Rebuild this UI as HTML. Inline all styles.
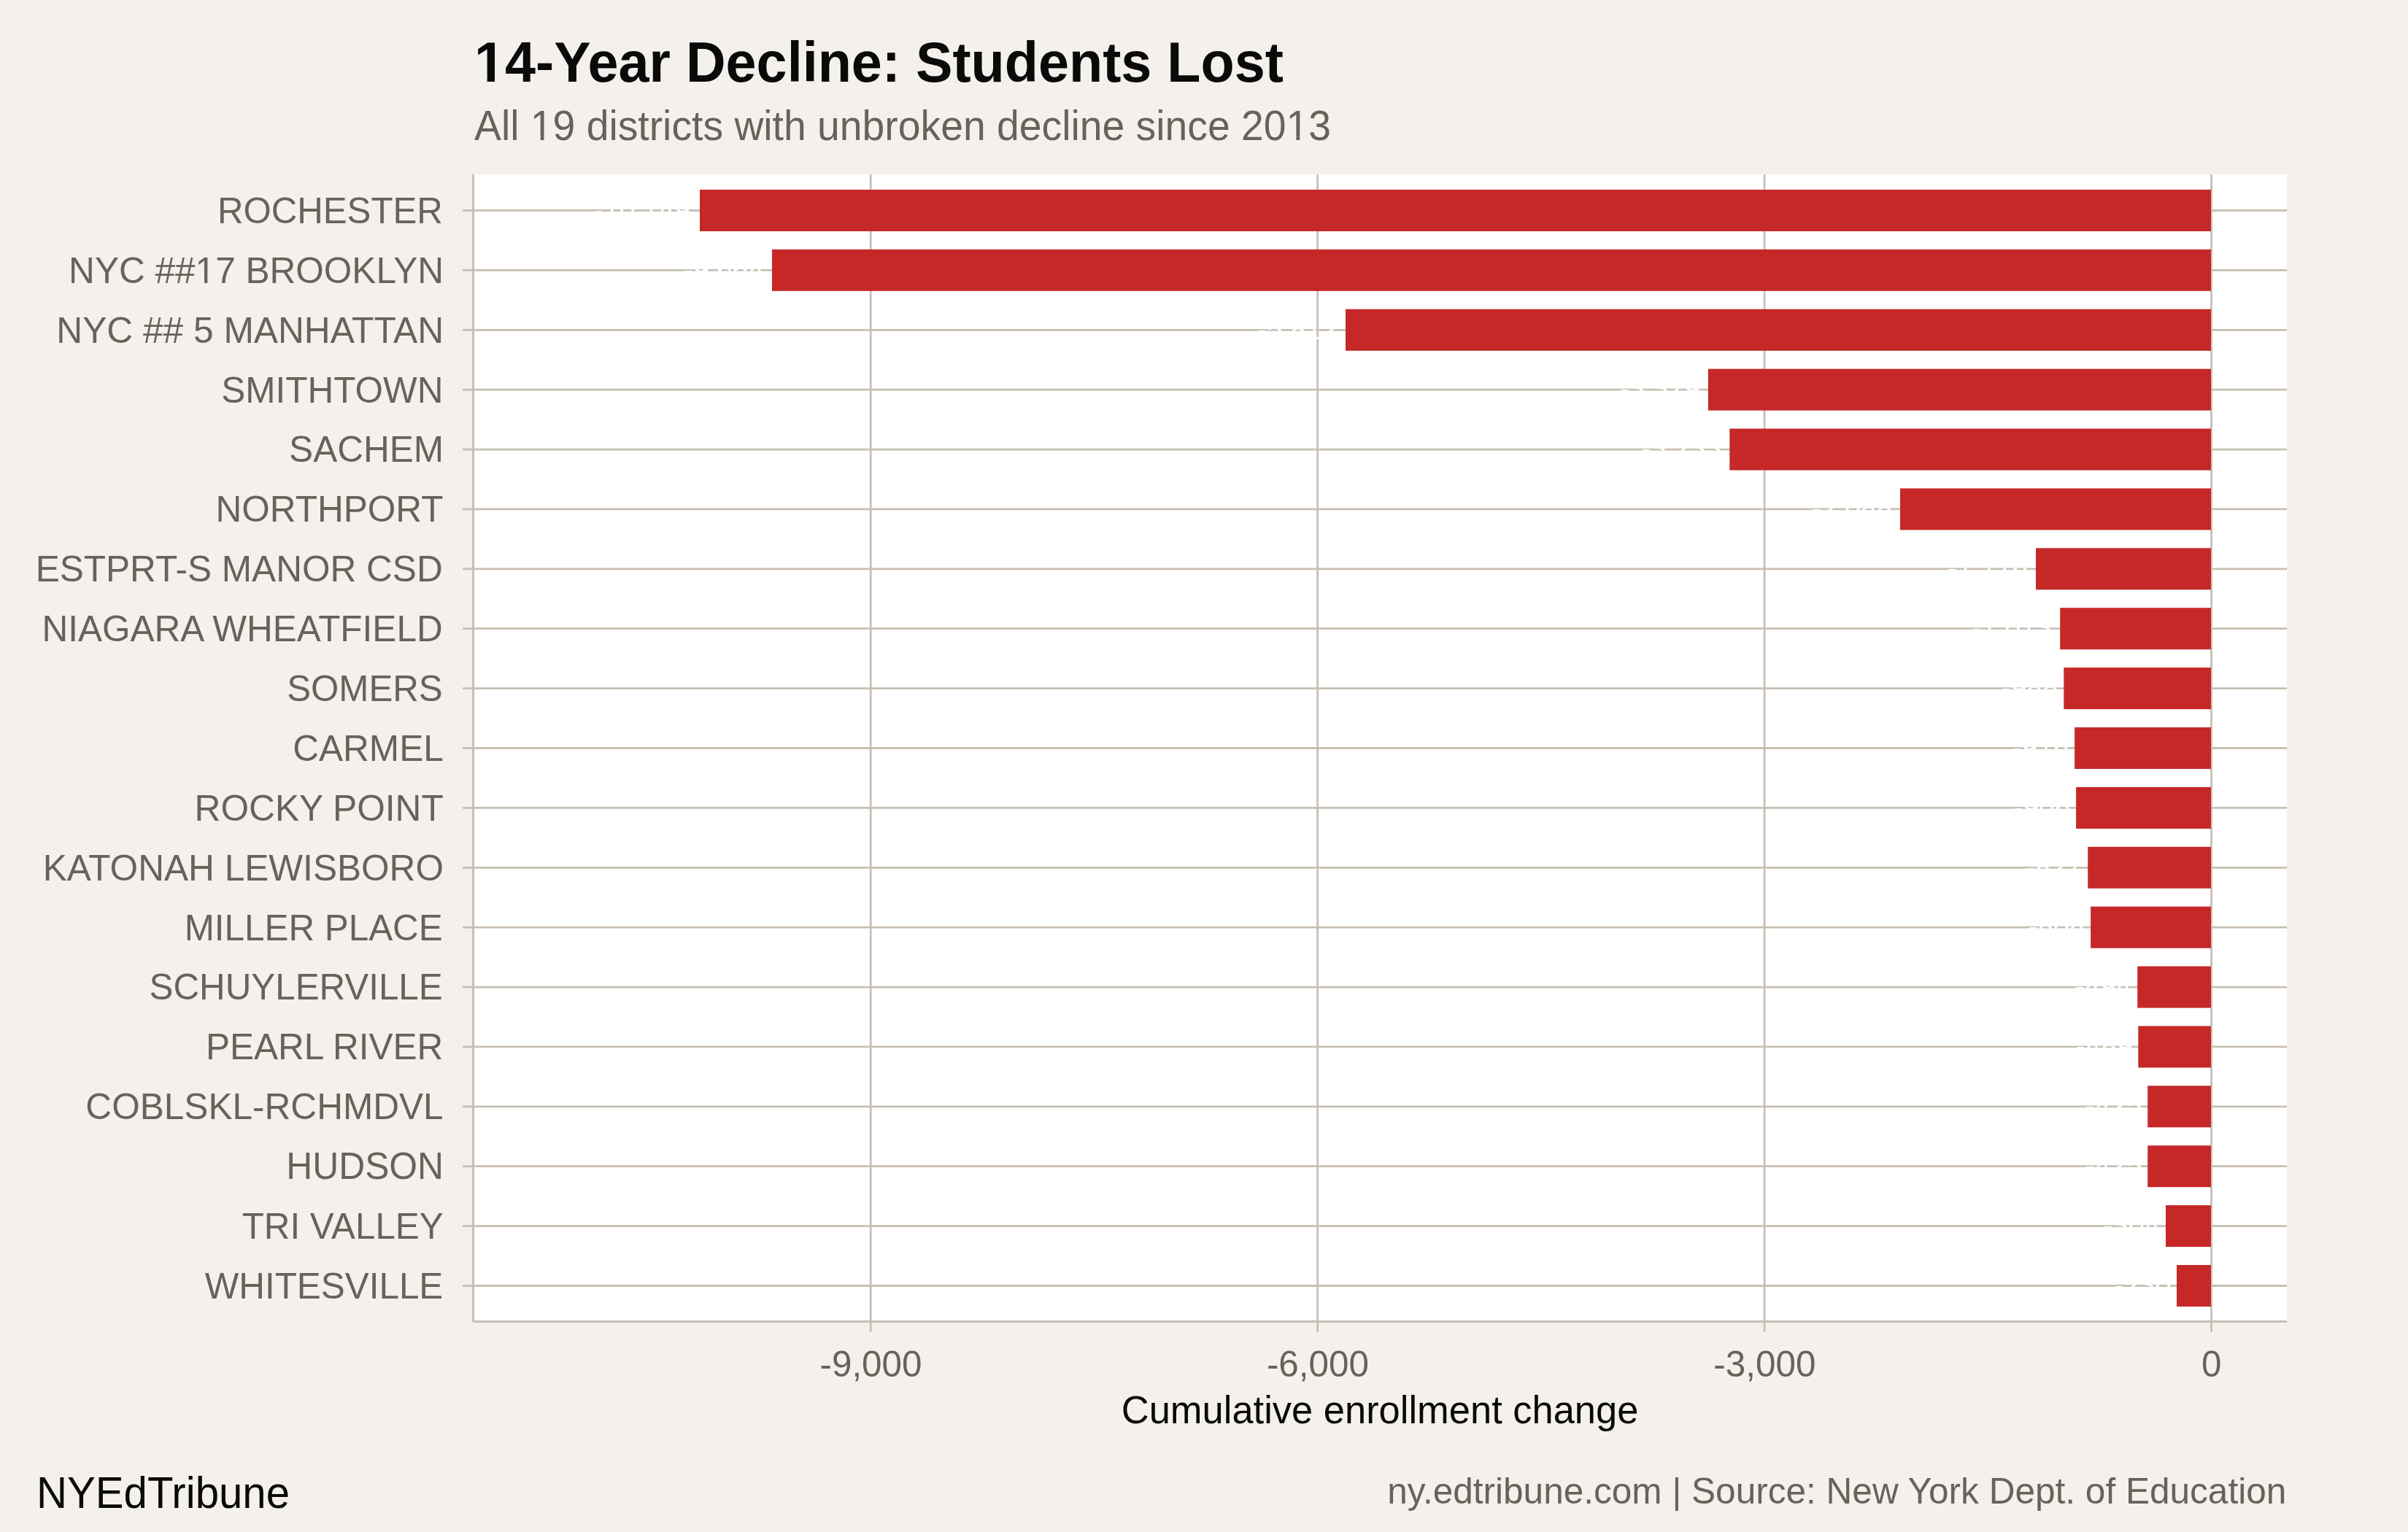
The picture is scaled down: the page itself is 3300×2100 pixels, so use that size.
<!DOCTYPE html><html><head><meta charset="utf-8"><style>html,body{margin:0;padding:0;background:#f4f1ec;}body{width:3300px;height:2100px;overflow:hidden;}svg{display:block;}text{font-family:"Liberation Sans",sans-serif;}</style></head><body>
<svg width="3300" height="2100" viewBox="0 0 3300 2100">
<rect x="0" y="0" width="3300" height="2100" fill="#f4f1ec"/>
<g transform="translate(650.00 112.00) scale(1 1.0330)"><text x="0" y="0" font-size="75.60" fill="#0a0a0a" font-weight="bold">14-Year Decline: Students Lost</text><rect x="3.26" y="-9.22" width="14.38" height="10.72" fill="#f4f1ec"/><rect x="28.02" y="-9.22" width="13.42" height="10.72" fill="#f4f1ec"/></g>
<g transform="translate(650.00 191.80) scale(1 1.0300)"><text x="0" y="0" font-size="55.30" fill="#68625a">All 19 districts with unbroken decline since 2013</text><rect x="79.51" y="-5.63" width="11.19" height="7.13" fill="#f4f1ec"/><rect x="95.59" y="-5.63" width="10.76" height="7.13" fill="#f4f1ec"/><rect x="1115.21" y="-5.63" width="11.19" height="7.13" fill="#f4f1ec"/><rect x="1131.30" y="-5.63" width="10.76" height="7.13" fill="#f4f1ec"/></g>
<rect x="648.50" y="239.00" width="2485.50" height="1572.40" fill="#ffffff"/>
<line x1="3030.55" y1="239.00" x2="3030.55" y2="1811.40" stroke="#c8bfb4" stroke-width="2.80"/>
<line x1="2418.10" y1="239.00" x2="2418.10" y2="1811.40" stroke="#c8bfb4" stroke-width="2.80"/>
<line x1="1805.65" y1="239.00" x2="1805.65" y2="1811.40" stroke="#c8bfb4" stroke-width="2.80"/>
<line x1="1193.20" y1="239.00" x2="1193.20" y2="1811.40" stroke="#c8bfb4" stroke-width="2.80"/>
<line x1="648.50" y1="288.50" x2="3134.00" y2="288.50" stroke="#c8bfb4" stroke-width="2.80"/>
<line x1="648.50" y1="370.39" x2="3134.00" y2="370.39" stroke="#c8bfb4" stroke-width="2.80"/>
<line x1="648.50" y1="452.28" x2="3134.00" y2="452.28" stroke="#c8bfb4" stroke-width="2.80"/>
<line x1="648.50" y1="534.17" x2="3134.00" y2="534.17" stroke="#c8bfb4" stroke-width="2.80"/>
<line x1="648.50" y1="616.06" x2="3134.00" y2="616.06" stroke="#c8bfb4" stroke-width="2.80"/>
<line x1="648.50" y1="697.94" x2="3134.00" y2="697.94" stroke="#c8bfb4" stroke-width="2.80"/>
<line x1="648.50" y1="779.83" x2="3134.00" y2="779.83" stroke="#c8bfb4" stroke-width="2.80"/>
<line x1="648.50" y1="861.72" x2="3134.00" y2="861.72" stroke="#c8bfb4" stroke-width="2.80"/>
<line x1="648.50" y1="943.61" x2="3134.00" y2="943.61" stroke="#c8bfb4" stroke-width="2.80"/>
<line x1="648.50" y1="1025.50" x2="3134.00" y2="1025.50" stroke="#c8bfb4" stroke-width="2.80"/>
<line x1="648.50" y1="1107.39" x2="3134.00" y2="1107.39" stroke="#c8bfb4" stroke-width="2.80"/>
<line x1="648.50" y1="1189.28" x2="3134.00" y2="1189.28" stroke="#c8bfb4" stroke-width="2.80"/>
<line x1="648.50" y1="1271.17" x2="3134.00" y2="1271.17" stroke="#c8bfb4" stroke-width="2.80"/>
<line x1="648.50" y1="1353.06" x2="3134.00" y2="1353.06" stroke="#c8bfb4" stroke-width="2.80"/>
<line x1="648.50" y1="1434.95" x2="3134.00" y2="1434.95" stroke="#c8bfb4" stroke-width="2.80"/>
<line x1="648.50" y1="1516.84" x2="3134.00" y2="1516.84" stroke="#c8bfb4" stroke-width="2.80"/>
<line x1="648.50" y1="1598.72" x2="3134.00" y2="1598.72" stroke="#c8bfb4" stroke-width="2.80"/>
<line x1="648.50" y1="1680.61" x2="3134.00" y2="1680.61" stroke="#c8bfb4" stroke-width="2.80"/>
<line x1="648.50" y1="1762.50" x2="3134.00" y2="1762.50" stroke="#c8bfb4" stroke-width="2.80"/>
<text x="945.84" y="300.80" font-size="38.80" fill="#ffffff" text-anchor="end">-10,149</text>
<text x="1047.00" y="382.69" font-size="38.80" fill="#ffffff" text-anchor="end">-9,664</text>
<text x="1833.00" y="464.58" font-size="38.80" fill="#ffffff" text-anchor="end">-5,812</text>
<text x="2329.90" y="546.47" font-size="38.80" fill="#ffffff" text-anchor="end">-3,379</text>
<text x="2359.30" y="628.36" font-size="38.80" fill="#ffffff" text-anchor="end">-3,233</text>
<text x="2593.00" y="710.24" font-size="38.80" fill="#ffffff" text-anchor="end">-2,088</text>
<text x="2779.00" y="792.13" font-size="38.80" fill="#ffffff" text-anchor="end">-1,176</text>
<text x="2812.20" y="874.02" font-size="38.80" fill="#ffffff" text-anchor="end">-1,013</text>
<text x="2820.53" y="955.91" font-size="38.80" fill="#ffffff" text-anchor="end">-988</text>
<text x="2835.33" y="1037.80" font-size="38.80" fill="#ffffff" text-anchor="end">-916</text>
<text x="2837.33" y="1119.69" font-size="38.80" fill="#ffffff" text-anchor="end">-906</text>
<text x="2853.43" y="1201.58" font-size="38.80" fill="#ffffff" text-anchor="end">-827</text>
<text x="2857.33" y="1283.47" font-size="38.80" fill="#ffffff" text-anchor="end">-808</text>
<text x="2921.43" y="1365.36" font-size="38.80" fill="#ffffff" text-anchor="end">-494</text>
<text x="2922.53" y="1447.25" font-size="38.80" fill="#ffffff" text-anchor="end">-489</text>
<text x="2935.43" y="1529.13" font-size="38.80" fill="#ffffff" text-anchor="end">-425</text>
<text x="2935.43" y="1611.02" font-size="38.80" fill="#ffffff" text-anchor="end">-425</text>
<text x="2960.23" y="1692.91" font-size="38.80" fill="#ffffff" text-anchor="end">-304</text>
<text x="2975.23" y="1774.80" font-size="38.80" fill="#ffffff" text-anchor="end">-230</text>
<rect x="959.00" y="260.00" width="2071.00" height="57.00" fill="#c62828"/>
<rect x="1058.00" y="341.89" width="1972.00" height="57.00" fill="#c62828"/>
<rect x="1844.00" y="423.78" width="1186.00" height="57.00" fill="#c62828"/>
<rect x="2340.90" y="505.67" width="689.10" height="57.00" fill="#c62828"/>
<rect x="2370.30" y="587.56" width="659.70" height="57.00" fill="#c62828"/>
<rect x="2604.00" y="669.44" width="426.00" height="57.00" fill="#c62828"/>
<rect x="2790.00" y="751.33" width="240.00" height="57.00" fill="#c62828"/>
<rect x="2823.20" y="833.22" width="206.80" height="57.00" fill="#c62828"/>
<rect x="2828.30" y="915.11" width="201.70" height="57.00" fill="#c62828"/>
<rect x="2843.10" y="997.00" width="186.90" height="57.00" fill="#c62828"/>
<rect x="2845.10" y="1078.89" width="184.90" height="57.00" fill="#c62828"/>
<rect x="2861.20" y="1160.78" width="168.80" height="57.00" fill="#c62828"/>
<rect x="2865.10" y="1242.67" width="164.90" height="57.00" fill="#c62828"/>
<rect x="2929.20" y="1324.56" width="100.80" height="57.00" fill="#c62828"/>
<rect x="2930.30" y="1406.45" width="99.70" height="57.00" fill="#c62828"/>
<rect x="2943.20" y="1488.34" width="86.80" height="57.00" fill="#c62828"/>
<rect x="2943.20" y="1570.22" width="86.80" height="57.00" fill="#c62828"/>
<rect x="2968.00" y="1652.11" width="62.00" height="57.00" fill="#c62828"/>
<rect x="2983.00" y="1734.00" width="47.00" height="57.00" fill="#c62828"/>
<line x1="648.50" y1="239.00" x2="648.50" y2="1811.40" stroke="#c8bfb4" stroke-width="3"/>
<line x1="648.50" y1="1811.40" x2="3134.00" y2="1811.40" stroke="#c8bfb4" stroke-width="3"/>
<line x1="634.1" y1="288.50" x2="648.50" y2="288.50" stroke="#c8bfb4" stroke-width="2.80"/>
<g transform="translate(606.90 305.90) scale(1 1.0240)"><text x="0" y="0" font-size="49.23" fill="#68625a" text-anchor="end">ROCHESTER</text></g>
<line x1="634.1" y1="370.39" x2="648.50" y2="370.39" stroke="#c8bfb4" stroke-width="2.80"/>
<g transform="translate(608.10 387.79) scale(1 1.0240)"><text x="0" y="0" font-size="49.56" fill="#68625a" text-anchor="end">NYC ##17 BROOKLYN</text><rect x="-338.24" y="-5.20" width="10.19" height="6.70" fill="#f4f1ec"/><rect x="-323.67" y="-5.20" width="9.80" height="6.70" fill="#f4f1ec"/></g>
<line x1="634.1" y1="452.28" x2="648.50" y2="452.28" stroke="#c8bfb4" stroke-width="2.80"/>
<g transform="translate(608.10 469.68) scale(1 1.0240)"><text x="0" y="0" font-size="49.69" fill="#68625a" text-anchor="end">NYC ## 5 MANHATTAN</text></g>
<line x1="634.1" y1="534.17" x2="648.50" y2="534.17" stroke="#c8bfb4" stroke-width="2.80"/>
<g transform="translate(607.50 551.57) scale(1 1.0240)"><text x="0" y="0" font-size="49.50" fill="#68625a" text-anchor="end">SMITHTOWN</text></g>
<line x1="634.1" y1="616.06" x2="648.50" y2="616.06" stroke="#c8bfb4" stroke-width="2.80"/>
<g transform="translate(608.00 633.46) scale(1 1.0240)"><text x="0" y="0" font-size="49.55" fill="#68625a" text-anchor="end">SACHEM</text></g>
<line x1="634.1" y1="697.94" x2="648.50" y2="697.94" stroke="#c8bfb4" stroke-width="2.80"/>
<g transform="translate(607.50 715.34) scale(1 1.0240)"><text x="0" y="0" font-size="49.57" fill="#68625a" text-anchor="end">NORTHPORT</text></g>
<line x1="634.1" y1="779.83" x2="648.50" y2="779.83" stroke="#c8bfb4" stroke-width="2.80"/>
<g transform="translate(606.70 797.23) scale(1 1.0240)"><text x="0" y="0" font-size="49.57" fill="#68625a" text-anchor="end">ESTPRT-S MANOR CSD</text></g>
<line x1="634.1" y1="861.72" x2="648.50" y2="861.72" stroke="#c8bfb4" stroke-width="2.80"/>
<g transform="translate(606.70 879.12) scale(1 1.0240)"><text x="0" y="0" font-size="49.52" fill="#68625a" text-anchor="end">NIAGARA WHEATFIELD</text></g>
<line x1="634.1" y1="943.61" x2="648.50" y2="943.61" stroke="#c8bfb4" stroke-width="2.80"/>
<g transform="translate(606.70 961.01) scale(1 1.0240)"><text x="0" y="0" font-size="49.27" fill="#68625a" text-anchor="end">SOMERS</text></g>
<line x1="634.1" y1="1025.50" x2="648.50" y2="1025.50" stroke="#c8bfb4" stroke-width="2.80"/>
<g transform="translate(607.80 1042.90) scale(1 1.0240)"><text x="0" y="0" font-size="49.60" fill="#68625a" text-anchor="end">CARMEL</text></g>
<line x1="634.1" y1="1107.39" x2="648.50" y2="1107.39" stroke="#c8bfb4" stroke-width="2.80"/>
<g transform="translate(607.80 1124.79) scale(1 1.0240)"><text x="0" y="0" font-size="49.67" fill="#68625a" text-anchor="end">ROCKY POINT</text></g>
<line x1="634.1" y1="1189.28" x2="648.50" y2="1189.28" stroke="#c8bfb4" stroke-width="2.80"/>
<g transform="translate(608.00 1206.68) scale(1 1.0240)"><text x="0" y="0" font-size="49.61" fill="#68625a" text-anchor="end">KATONAH LEWISBORO</text></g>
<line x1="634.1" y1="1271.17" x2="648.50" y2="1271.17" stroke="#c8bfb4" stroke-width="2.80"/>
<g transform="translate(606.70 1288.57) scale(1 1.0240)"><text x="0" y="0" font-size="49.38" fill="#68625a" text-anchor="end">MILLER PLACE</text></g>
<line x1="634.1" y1="1353.06" x2="648.50" y2="1353.06" stroke="#c8bfb4" stroke-width="2.80"/>
<g transform="translate(606.70 1370.46) scale(1 1.0240)"><text x="0" y="0" font-size="49.34" fill="#68625a" text-anchor="end">SCHUYLERVILLE</text></g>
<line x1="634.1" y1="1434.95" x2="648.50" y2="1434.95" stroke="#c8bfb4" stroke-width="2.80"/>
<g transform="translate(607.30 1452.35) scale(1 1.0240)"><text x="0" y="0" font-size="49.50" fill="#68625a" text-anchor="end">PEARL RIVER</text></g>
<line x1="634.1" y1="1516.84" x2="648.50" y2="1516.84" stroke="#c8bfb4" stroke-width="2.80"/>
<g transform="translate(607.70 1534.24) scale(1 1.0240)"><text x="0" y="0" font-size="49.59" fill="#68625a" text-anchor="end">COBLSKL-RCHMDVL</text></g>
<line x1="634.1" y1="1598.72" x2="648.50" y2="1598.72" stroke="#c8bfb4" stroke-width="2.80"/>
<g transform="translate(608.00 1616.12) scale(1 1.0240)"><text x="0" y="0" font-size="49.79" fill="#68625a" text-anchor="end">HUDSON</text></g>
<line x1="634.1" y1="1680.61" x2="648.50" y2="1680.61" stroke="#c8bfb4" stroke-width="2.80"/>
<g transform="translate(607.70 1698.01) scale(1 1.0240)"><text x="0" y="0" font-size="49.35" fill="#68625a" text-anchor="end">TRI VALLEY</text></g>
<line x1="634.1" y1="1762.50" x2="648.50" y2="1762.50" stroke="#c8bfb4" stroke-width="2.80"/>
<g transform="translate(607.30 1779.90) scale(1 1.0240)"><text x="0" y="0" font-size="49.40" fill="#68625a" text-anchor="end">WHITESVILLE</text></g>
<line x1="3030.55" y1="1811.40" x2="3030.55" y2="1826.00" stroke="#c8bfb4" stroke-width="2.80"/>
<g transform="translate(3030.85 1887.40) scale(1 1.0230)"><text x="0" y="0" font-size="49.40" fill="#68625a" text-anchor="middle">0</text></g>
<line x1="2418.10" y1="1811.40" x2="2418.10" y2="1826.00" stroke="#c8bfb4" stroke-width="2.80"/>
<g transform="translate(2418.40 1887.40) scale(1 1.0230)"><text x="0" y="0" font-size="49.40" fill="#68625a" text-anchor="middle">-3,000</text></g>
<line x1="1805.65" y1="1811.40" x2="1805.65" y2="1826.00" stroke="#c8bfb4" stroke-width="2.80"/>
<g transform="translate(1805.95 1887.40) scale(1 1.0230)"><text x="0" y="0" font-size="49.40" fill="#68625a" text-anchor="middle">-6,000</text></g>
<line x1="1193.20" y1="1811.40" x2="1193.20" y2="1826.00" stroke="#c8bfb4" stroke-width="2.80"/>
<g transform="translate(1193.50 1887.40) scale(1 1.0230)"><text x="0" y="0" font-size="49.40" fill="#68625a" text-anchor="middle">-9,000</text></g>
<g transform="translate(1891.10 1951.10) scale(1 1.0200)"><text x="0" y="0" font-size="52.47" fill="#0a0a0a" text-anchor="middle">Cumulative enrollment change</text></g>
<g transform="translate(50.00 2066.80) scale(1 1.0440)"><text x="0" y="0" font-size="58.18" fill="#0a0a0a">NYEdTribune</text></g>
<g transform="translate(3133.30 2060.80) scale(1 1.0000)"><text x="0" y="0" font-size="49.55" fill="#68625a" text-anchor="end">ny.edtribune.com | Source: New York Dept. of Education</text></g>
</svg></body></html>
